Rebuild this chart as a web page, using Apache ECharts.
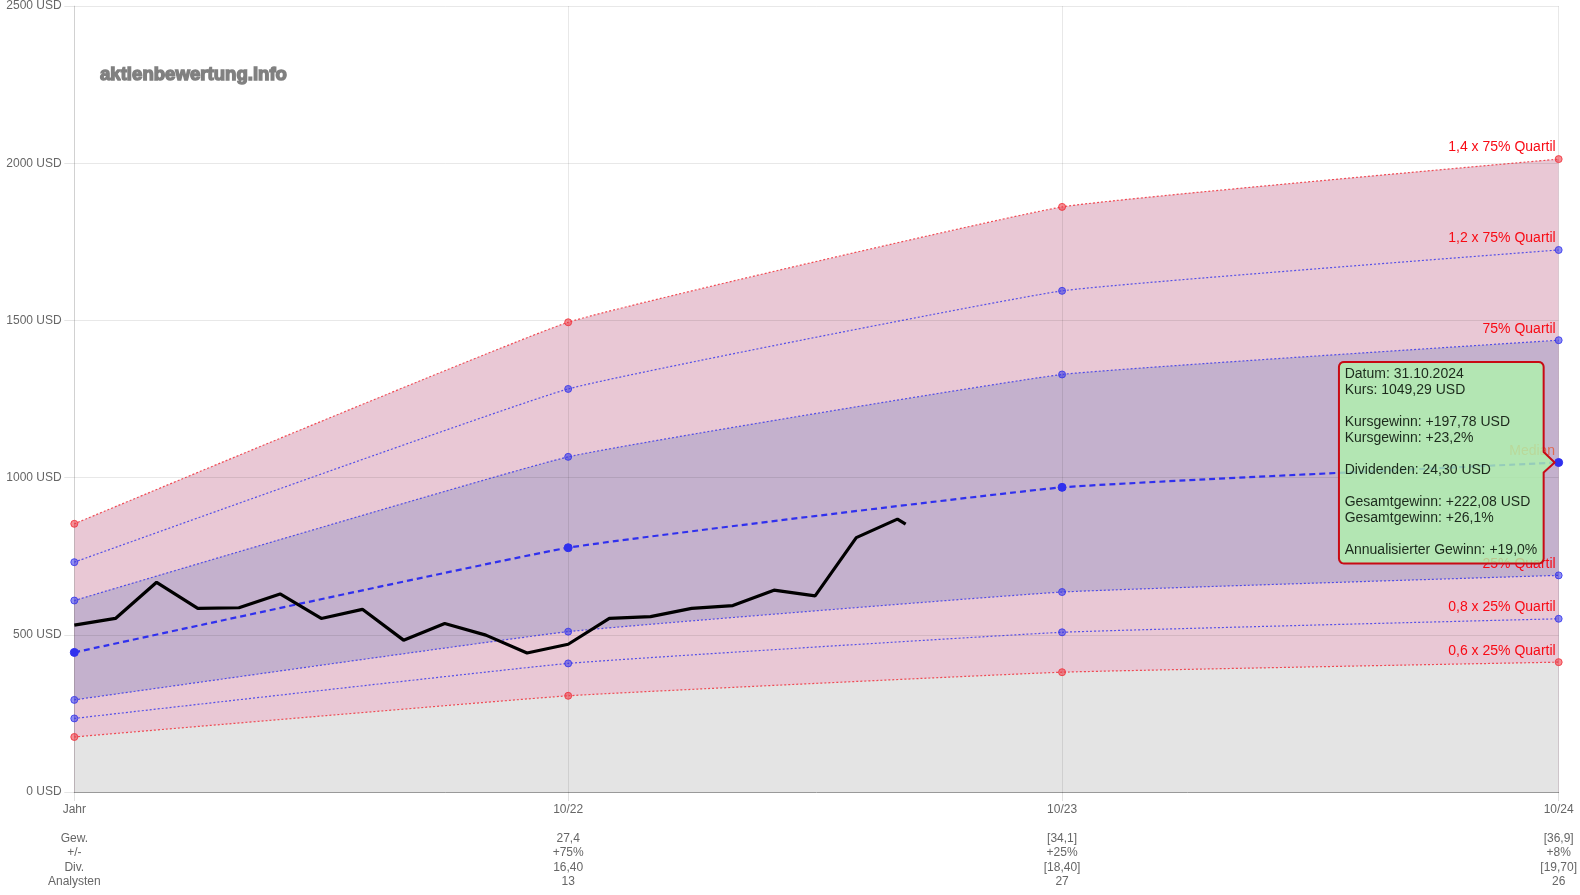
<!DOCTYPE html>
<html>

<head>
    <meta charset="UTF-8">
    <title>aktienbewertung.info</title>
    <script src="https://cdn.jsdelivr.net/npm/echarts@6/dist/echarts.min.js"></script>
    <style>
        body {
            margin: 0;
            background: #fff;
        }

        #main {
            width: 1580px;
            height: 895px;
        }
    </style>
</head>

<body>
    <div id="main"></div>
</body>
<script type="text/javascript">

    // x axis rows
    var categories = ['Jahr', '10/22', '10/23', '10/24'];
    var categoryDays = [0, 365, 730, 1097];
    var gewinn = ['Gew.', '27,4', '[34,1]', '[36,9]'];
    var aenderung = ['+/-', '+75%', '+25%', '+8%'];
    var dividende = ['Div.', '16,40', '[18,40]', '[19,70]'];
    var analysten = ['Analysten', '13', '27', '26'];

    // valuation bands, one value per category
    var q75x14 = [853, 1494, 1861, 2013];
    var q75x12 = [731, 1282, 1594, 1724];
    var q75 = [609, 1066, 1328, 1437];
    var median = [444, 777, 969, 1048];
    var q25 = [293, 510, 636, 689];
    var q25x08 = [234, 409, 508, 551];
    var q25x06 = [175, 306, 381, 413];

    // price line, months since start
    var priceMonths = [0, 1, 2, 3, 4, 5, 6, 7, 8, 9, 10, 11, 12, 13, 14, 15, 16, 17, 18, 19, 20, 20.2];
    var priceValues = [531, 552, 667, 584, 586, 630, 552, 581, 483, 536, 499, 442, 470, 552, 558, 584, 593, 642, 624, 809, 868, 852];

    var tipLines = [
        'Datum: 31.10.2024',
        'Kurs: 1049,29 USD',
        '',
        'Kursgewinn: +197,78 USD',
        'Kursgewinn: +23,2%',
        '',
        'Dividenden: 24,30 USD',
        '',
        'Gesamtgewinn: +222,08 USD',
        'Gesamtgewinn: +26,1%',
        '',
        'Annualisierter Gewinn: +19,0%'
    ];

    var FONT = '"Liberation Sans", Arial, sans-serif';
    var TENSION = 0.1;
    var RED = 'rgba(240,50,60,0.85)';
    var RED_DOT = 'rgba(240,50,60,0.55)';
    var BLUE = 'rgba(50,50,235,0.8)';
    var BLUE_DOT = 'rgba(50,50,235,0.55)';

    function toPoints(values) {
        return values.map(function (v, i) {
            return [categoryDays[i], v];
        });
    }

    // filled layer, sits under the grid lines
    function fillSeries(values, color) {
        return {
            type: 'line',
            data: toPoints(values),
            smooth: TENSION,
            z: 1,
            silent: true,
            showSymbol: false,
            lineStyle: { width: 0 },
            areaStyle: { color: color, opacity: 1 }
        };
    }

    function bandSeries(name, values, color, dot) {
        var data = toPoints(values).map(function (p, i) {
            if (i < values.length - 1) {
                return p;
            }
            return {
                value: p,
                label: {
                    show: true,
                    formatter: name,
                    position: 'left',
                    distance: 0,
                    offset: [1, -11.5],
                    color: '#f80a14',
                    fontSize: 14,
                    fontFamily: FONT
                }
            };
        });
        return {
            name: name,
            type: 'line',
            data: data,
            smooth: TENSION,
            z: 3,
            symbol: 'circle',
            symbolSize: 7,
            showAllSymbol: true,
            itemStyle: { color: dot, borderColor: color, borderWidth: 1 },
            lineStyle: { color: color, width: 1.2, type: [2, 2] }
        };
    }

    var medianSeries = bandSeries('Median', median, '#3030ee', '#3030ee');
    medianSeries.symbolSize = 8;
    medianSeries.lineStyle = { color: '#3030ee', width: 2.2, type: [6, 4] };
    medianSeries.data[3].label.color = '#e06a50';

    var option = {
        animation: false,
        grid: { left: 74.3, right: 21, top: 6, bottom: 103 },
        xAxis: {
            type: 'value',
            min: 0,
            max: categoryDays[3],
            z: 2,
            axisLine: { show: true, onZero: false, lineStyle: { color: '#999', width: 1 } },
            axisTick: { show: true, length: 9, customValues: categoryDays, lineStyle: { color: 'rgba(0,0,0,0.12)' } },
            splitLine: { show: true, lineStyle: { color: 'rgba(0,0,0,0.09)', width: 1 } },
            axisLabel: {
                customValues: categoryDays,
                color: '#666',
                fontSize: 12,
                fontFamily: FONT,
                lineHeight: 14.5,
                margin: 10,
                showMinLabel: true,
                showMaxLabel: true,
                formatter: function (v) {
                    var i = categoryDays.indexOf(v);
                    return [categories[i], '', gewinn[i], aenderung[i], dividende[i], analysten[i]].join('\n');
                }
            }
        },
        yAxis: {
            type: 'value',
            min: 0,
            max: 2500,
            interval: 500,
            offset: 2.6,
            z: 2,
            axisLine: { show: true, lineStyle: { color: 'rgba(0,0,0,0.1)' } },
            axisTick: { show: true, length: 10, lineStyle: { color: 'rgba(0,0,0,0.1)' } },
            splitLine: { show: true, lineStyle: { color: 'rgba(0,0,0,0.09)', width: 1 } },
            axisLabel: {
                color: '#666',
                fontSize: 12,
                fontFamily: FONT,
                margin: 10,
                padding: [2, 0, 0, 0],
                formatter: function (v) {
                    return v + ' USD';
                }
            }
        },
        series: [
            fillSeries(q75x14, '#e9c8d5'),
            fillSeries(q75, '#c4b1cd'),
            fillSeries(q25, '#e9c8d5'),
            fillSeries(q25x06, '#e4e4e4'),
            bandSeries('1,4 x 75% Quartil', q75x14, RED, RED_DOT),
            bandSeries('1,2 x 75% Quartil', q75x12, BLUE, BLUE_DOT),
            bandSeries('75% Quartil', q75, BLUE, BLUE_DOT),
            medianSeries,
            bandSeries('25% Quartil', q25, BLUE, BLUE_DOT),
            bandSeries('0,8 x 25% Quartil', q25x08, BLUE, BLUE_DOT),
            bandSeries('0,6 x 25% Quartil', q25x06, RED, RED_DOT),
            {
                name: 'Kurs',
                type: 'line',
                z: 4,
                showSymbol: false,
                lineStyle: { color: '#000', width: 3.2 },
                data: priceMonths.map(function (m, i) {
                    return [m * 365 / 12, priceValues[i]];
                })
            }
        ]
    };

    var myChart = echarts.init(document.getElementById('main'));
    myChart.setOption(option);

    // outline of the tooltip box with its caret, going clockwise from top left
    function tipOutline(left, top, right, bottom, tipX, tipY) {
        var r = 5;
        var pts = [];
        function corner(cx, cy, from) {
            for (var k = 0; k <= 4; k++) {
                var a = (from + k * 22.5) * Math.PI / 180;
                pts.push([cx + r * Math.cos(a), cy + r * Math.sin(a)]);
            }
        }
        corner(left + r, top + r, 180);
        corner(right - r, top + r, 270);
        pts.push([right, tipY - 10.5], [tipX, tipY], [right, tipY + 10]);
        corner(right - r, bottom - r, 0);
        corner(left + r, bottom - r, 90);
        return pts;
    }

    // tooltip hangs on the last median point
    var anchor = myChart.convertToPixel({ xAxisIndex: 0, yAxisIndex: 0 }, [categoryDays[3], median[3]]);
    var tipRight = anchor[0] - 15;
    var tipTop = anchor[1] - 100.6;

    myChart.setOption({
        graphic: {
            elements: [
                {
                    type: 'text',
                    z: 5,
                    x: 100,
                    y: 65.5,
                    silent: true,
                    style: {
                        text: 'aktienbewertung.info',
                        font: 'bold 18.6px ' + FONT,
                        fill: '#808080',
                        stroke: '#808080',
                        lineWidth: 1.4
                    }
                },
                {
                    type: 'polygon',
                    z: 100,
                    silent: true,
                    shape: { points: tipOutline(tipRight - 204.7, tipTop, tipRight, tipTop + 201.6, anchor[0] - 4, anchor[1]) },
                    style: { fill: 'rgba(175,244,172,0.8)', stroke: '#c80a14', lineWidth: 2, lineJoin: 'round' }
                },
                {
                    type: 'text',
                    z: 101,
                    silent: true,
                    x: tipRight - 199,
                    y: tipTop + 4.6,
                    style: {
                        text: tipLines.join('\n'),
                        font: '14px ' + FONT,
                        lineHeight: 16,
                        fill: '#1c2a1c'
                    }
                }
            ]
        }
    });

</script>

</html>
